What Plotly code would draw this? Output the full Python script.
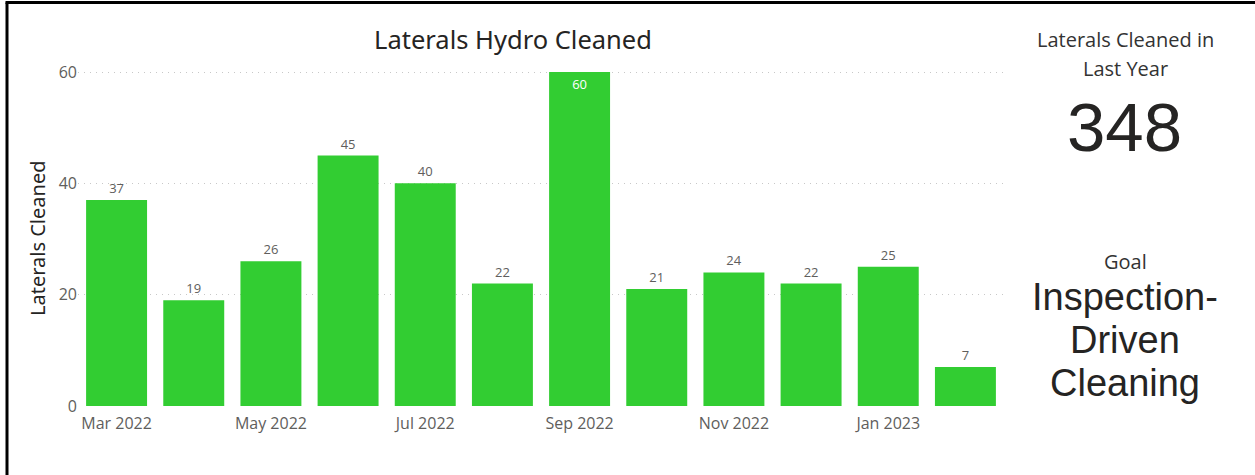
import plotly.graph_objects as go

# monthly laterals hydro cleaned
months = ["Mar 2022", "Apr 2022", "May 2022", "Jun 2022", "Jul 2022", "Aug 2022",
          "Sep 2022", "Oct 2022", "Nov 2022", "Dec 2022", "Jan 2023", "Feb 2023"]
cleaned = [37, 19, 26, 45, 40, 22, 60, 21, 24, 22, 25, 7]
y_ticks = [0, 20, 40, 60]
x_ticks = months[::2]

card_title = ["Laterals Cleaned in", "Last Year"]
card_value = "348"
goal_title = "Goal"
goal_lines = ["Inspection-", "Driven", "Cleaning"]

W, H = 1255, 475
L, R, T, B = 78, 251, 60, 69
pw, ph = W - L - R, H - T - B


def px(x):
    return (x - L) / pw


def py(y):
    return (H - B - y) / ph


GREEN = "#32CD32"
GRAY = "#605E5C"
DARK = "#252423"

# biggest bar gets its label inside, the rest on top
pos = ["inside" if v == max(cleaned) else "outside" for v in cleaned]

fig = go.Figure()
fig.add_trace(go.Bar(
    x=months, y=cleaned,
    marker=dict(color=GREEN, line=dict(width=0)),
    text=cleaned, textposition=pos,
    insidetextanchor="end",
    textfont=dict(family="Open Sans", size=13),
    outsidetextfont=dict(color=GRAY, family="Open Sans", size=13),
    insidetextfont=dict(color="white", family="Open Sans", size=13),
    cliponaxis=False,
))

fig.update_layout(
    width=W, height=H,
    margin=dict(l=L, r=R, t=T, b=B),
    paper_bgcolor="white", plot_bgcolor="white",
    bargap=0.21, showlegend=False,
    title=dict(text="Laterals Hydro Cleaned", x=513 / W, xanchor="center",
               xref="container", y=1 - 40 / H, yref="container", yanchor="middle",
               font=dict(family="Noto Sans", size=25.5, color=DARK)),
    xaxis=dict(type="category", range=[-0.5, 11.5], tickvals=x_ticks, ticktext=x_ticks,
               showgrid=False, showline=False, zeroline=False, ticks="",
               ticklabelstandoff=6,
               tickfont=dict(family="Open Sans", size=16, color=GRAY)),
    yaxis=dict(range=[0, 62.16], tickvals=y_ticks, showgrid=True,
               gridcolor="#C8C8C8", griddash="1px,5px", gridwidth=1,
               zeroline=False, showline=False, ticks="",
               tickfont=dict(family="Open Sans", size=16, color=GRAY)),
)

ann = [
    dict(text="Laterals Cleaned", x=px(38), y=py(239), textangle=-90,
         font=dict(family="Noto Sans", size=20, color=DARK)),
    dict(text=card_title[0], x=px(1125), y=py(40),
         font=dict(family="Open Sans", size=20, color="#333333")),
    dict(text=card_title[1], x=px(1125), y=py(68),
         font=dict(family="Open Sans", size=20, color="#333333")),
    dict(text=card_value, x=px(1124), y=py(127),
         font=dict(family="Liberation Sans", size=69, color="#252423")),
    dict(text=goal_title, x=px(1125), y=py(261),
         font=dict(family="Open Sans", size=20, color="#333333")),
]
for i, line in enumerate(goal_lines):
    ann.append(dict(text=line, x=px(1125), y=py(297 + 43 * i),
                    font=dict(family="Liberation Sans", size=38, color="#252423")))
for a in ann:
    a.update(xref="paper", yref="paper", showarrow=False,
             xanchor="center", yanchor="middle")
fig.update_layout(annotations=ann)

# black frame on top and left edges
fig.add_shape(type="line", xref="paper", yref="paper",
              x0=px(7), x1=px(7), y0=py(H + 5), y1=py(2.5),
              line=dict(color="black", width=3))
fig.add_shape(type="line", xref="paper", yref="paper",
              x0=px(5.5), x1=px(W + 5), y0=py(2.5), y1=py(2.5),
              line=dict(color="black", width=3))

# drop the default page margin so the figure sits at the window corner
fig.write_html("out.html", config={"displayModeBar": False},
               post_script="document.body.style.margin='0';")
